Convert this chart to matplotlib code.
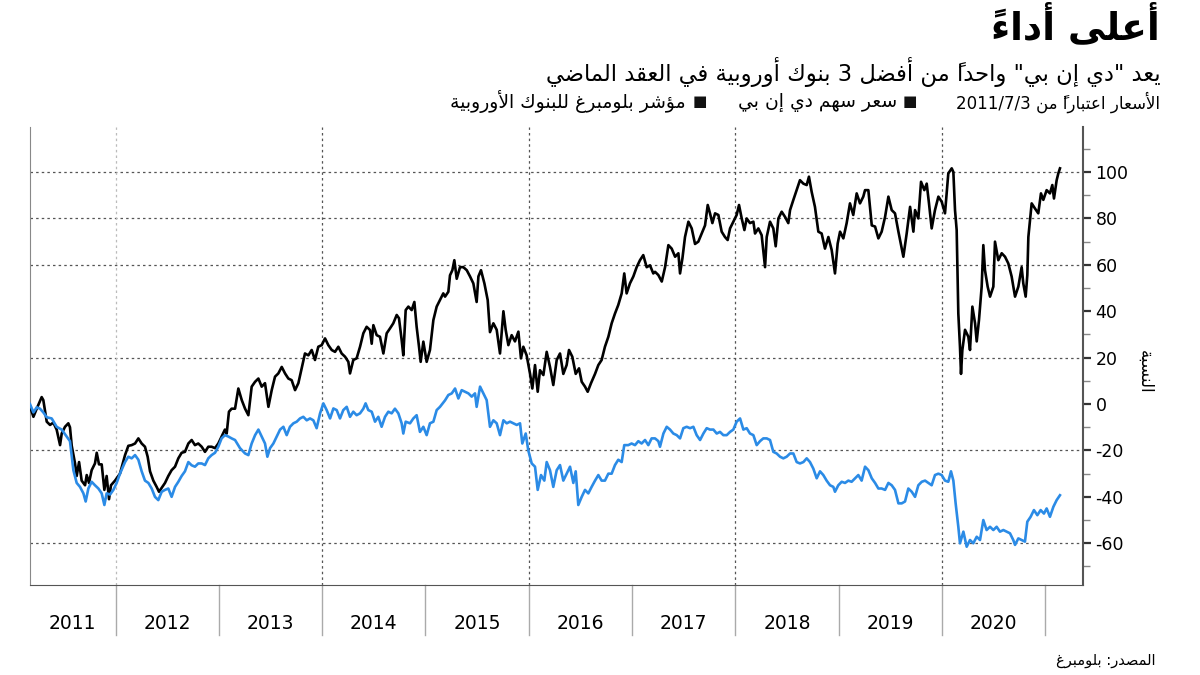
import re
import matplotlib
matplotlib.use("Agg")
import matplotlib.pyplot as plt
from matplotlib.ticker import FixedLocator
from matplotlib.transforms import blended_transform_factory

plt.rcParams['font.family'] = ['DejaVu Sans']
plt.rcParams['axes.unicode_minus'] = False

# ---- texts ----
TITLE = "أعلى أداءً"
SUBTITLE = 'يعد "دي إن بي" واحداً من أفضل 3 بنوك أوروبية في العقد الماضي'
NOTE = "الأسعار اعتباراً من 2011/7/3"
DNB_LABEL = "سعر سهم دي إن بي"
BANKS_LABEL = "مؤشر بلومبرغ للبنوك الأوروبية"
Y_LABEL = "النسبة"
SOURCE = "المصدر: بلومبرغ"

# ---- data: % change since start ----
dnb_years = [
    2011.172, 2011.205, 2011.237, 2011.285, 2011.301, 2011.334, 2011.366, 2011.398, 2011.430, 2011.463,
    2011.479, 2011.511, 2011.543, 2011.559, 2011.576, 2011.608, 2011.624, 2011.647, 2011.672, 2011.705,
    2011.721, 2011.743, 2011.769, 2011.801, 2011.818, 2011.840, 2011.866, 2011.892, 2011.914, 2011.937,
    2011.956, 2011.995,
    2012.043, 2012.092, 2012.124, 2012.156, 2012.189, 2012.221, 2012.253, 2012.285, 2012.311, 2012.334,
    2012.366, 2012.398, 2012.421, 2012.453, 2012.479, 2012.511, 2012.543, 2012.576, 2012.608, 2012.640,
    2012.672, 2012.705, 2012.737, 2012.769, 2012.801, 2012.834, 2012.866, 2012.898, 2012.930, 2012.963,
    2012.995,
    2013.027, 2013.059, 2013.076, 2013.098, 2013.124,
    2013.157, 2013.189, 2013.222, 2013.254, 2013.286, 2013.318, 2013.351, 2013.383, 2013.415, 2013.447,
    2013.480, 2013.512, 2013.544, 2013.576, 2013.609, 2013.641, 2013.673, 2013.705, 2013.738, 2013.770,
    2013.802, 2013.834, 2013.867, 2013.899, 2013.931, 2013.963, 2013.996,
    2014.028, 2014.060, 2014.093, 2014.125, 2014.157, 2014.189, 2014.222, 2014.254, 2014.270, 2014.302,
    2014.334, 2014.367, 2014.399, 2014.431, 2014.464, 2014.480, 2014.496, 2014.528, 2014.560, 2014.593,
    2014.625, 2014.657, 2014.689, 2014.722, 2014.744, 2014.770, 2014.786, 2014.809, 2014.835, 2014.867,
    2014.893, 2014.915, 2014.938, 2014.954, 2014.980,
    2015.012, 2015.044, 2015.077, 2015.109, 2015.141, 2015.173,
    2015.190, 2015.222, 2015.238, 2015.261, 2015.280, 2015.303, 2015.335, 2015.367, 2015.400, 2015.432,
    2015.464, 2015.496, 2015.513, 2015.538, 2015.571, 2015.603, 2015.625, 2015.658, 2015.690, 2015.722,
    2015.738, 2015.755, 2015.777, 2015.803, 2015.835, 2015.867, 2015.900, 2015.925, 2015.948, 2015.980,
    2016.013, 2016.035, 2016.061, 2016.087, 2016.109, 2016.142, 2016.174, 2016.206, 2016.238, 2016.271,
    2016.303, 2016.335, 2016.367, 2016.390, 2016.422, 2016.455, 2016.487, 2016.513, 2016.545, 2016.571,
    2016.603, 2016.642, 2016.674, 2016.706, 2016.738, 2016.771, 2016.803, 2016.835, 2016.867, 2016.900,
    2016.925, 2016.948, 2016.980,
    2017.013, 2017.045, 2017.077, 2017.109, 2017.142, 2017.174, 2017.206,
    2017.223, 2017.255, 2017.288, 2017.320, 2017.352, 2017.384, 2017.417, 2017.449, 2017.465, 2017.488,
    2017.513, 2017.546, 2017.578, 2017.610, 2017.642, 2017.675, 2017.707, 2017.733, 2017.755, 2017.778,
    2017.804, 2017.836, 2017.868, 2017.900, 2017.926, 2017.949, 2017.981,
    2018.013, 2018.036, 2018.062, 2018.088, 2018.110, 2018.142, 2018.175, 2018.191, 2018.223, 2018.255,
    2018.288, 2018.304, 2018.336, 2018.368, 2018.391, 2018.417, 2018.449, 2018.481, 2018.513, 2018.530,
    2018.562, 2018.594, 2018.626, 2018.659, 2018.691, 2018.713, 2018.739, 2018.771, 2018.804, 2018.836,
    2018.868, 2018.901, 2018.933, 2018.965, 2018.991,
    2019.014, 2019.046, 2019.078, 2019.110, 2019.142, 2019.175, 2019.207, 2019.239,
    2019.256, 2019.288, 2019.321, 2019.353, 2019.385, 2019.417, 2019.450, 2019.482, 2019.514, 2019.546,
    2019.579, 2019.611, 2019.627, 2019.659, 2019.692, 2019.724, 2019.740, 2019.772, 2019.798, 2019.830,
    2019.853, 2019.875, 2019.901, 2019.933, 2019.966, 2019.998,
    2020.030, 2020.046, 2020.062, 2020.095, 2020.111, 2020.127, 2020.143, 2020.159, 2020.175, 2020.185,
    2020.198, 2020.224, 2020.256, 2020.272, 2020.295, 2020.321, 2020.337, 2020.359, 2020.385, 2020.401,
    2020.417, 2020.443, 2020.466, 2020.498, 2020.514, 2020.546, 2020.579, 2020.611, 2020.643, 2020.675,
    2020.708, 2020.740, 2020.772, 2020.788, 2020.811, 2020.827, 2020.837, 2020.853, 2020.869, 2020.901,
    2020.933, 2020.959, 2020.982,
    2021.014, 2021.046, 2021.069, 2021.085, 2021.111, 2021.127, 2021.143,
]
dnb_values = [
    -1, -5.5, -2, 3, 1.7, -7.6, -9, -8, -11, -17.7,
    -12.7, -9.8, -8.3, -10, -18, -25.6, -31, -25, -33, -35,
    -30.6, -34, -28.5, -25.6, -21, -26, -26, -37, -31, -41,
    -35, -33,
    -30, -22, -18, -17.7, -17, -14.8, -17, -18.4, -22.7, -29,
    -33, -35.7, -37.8, -35.7, -34, -31, -28.5, -27, -23.4, -21,
    -20.6, -17, -15.5, -17.7, -17, -18.4, -20.6, -18.4, -18.4, -19,
    -17,
    -14, -11, -12.7, -3.3, -2,
    -2, 6.7, 1.7, -2, -4.8, 7.5, 9.6, 11, 7.5, 9,
    -1.2, 6, 11.8, 13.2, 16, 13.2, 11, 10.3, 6, 9,
    15.4, 21.8, 21, 23.3, 19, 24.7, 25.4,
    28.3, 25.4, 23.3, 22.5, 24.7, 21.8, 20.4, 18.2, 13.2, 19,
    19.7, 24.7, 30.5, 33.3, 31.9, 26, 34, 29.7, 29, 21.8,
    30.5, 32.6, 34.8, 38.4, 37, 27.6, 21, 40.5, 42, 40.5,
    44, 33.3, 24.7, 18.2, 26.9,
    18.2, 23.3, 36.2, 42, 44.8, 47.7,
    46.3, 48.4, 55.5, 57.7, 62, 54, 59, 59, 57.7, 55,
    52, 44, 55, 57.7, 52, 44.8, 31, 34.8, 32, 21.8,
    30.5, 40, 32, 25.4, 29.7, 27, 31.2, 19.7, 24.7, 21,
    13, 6.7, 16.8, 5.3, 14.6, 12.5, 22.5, 16, 8.2, 19,
    21.8, 13, 16.8, 23.3, 20.4, 13, 15.4, 9.6, 7.5, 5.3,
    9, 13, 16.8, 19, 24.7, 29, 34.8, 39, 42.7, 47.7,
    56.3, 47.7, 52,
    55, 59, 62, 64.2, 59, 59.8, 56.3,
    57, 55.6, 52.8, 59, 68.5, 67, 63.5, 65, 56.3, 62.8,
    72, 78.6, 75.7, 69, 70, 73.5, 77, 85.8, 82.2, 78,
    82.2, 81.5, 74.3, 72, 70.7, 75.7, 78.6,
    81.5, 85.8, 80, 75, 80, 78, 78.6, 73.5, 75.7, 72.8,
    59, 72, 78.6, 75.7, 68, 80, 82.9, 80.7, 78, 83.6,
    88, 92.2, 96.5, 95, 94.4, 98, 91.5, 85, 74.3, 73.5,
    67, 72, 66.4, 56.3, 69.2,
    74.3, 71.4, 78, 86.5, 81.5, 90.8, 86.5, 89.4,
    92.2, 92.2, 77, 76.5, 71.4, 74.3, 80.7, 89.4, 83.6, 82.2,
    74.3, 67, 63.5, 73.5, 85, 74.3, 83.6, 80, 95.8, 92.2,
    95, 86.5, 75.7, 83.6, 89.4, 87.2,
    82.2, 90.8, 99.4, 101.6, 100, 83.6, 75, 39, 24.7, 13,
    23.3, 32, 29, 23.3, 42, 34.8, 27, 36.2, 50.6, 68.5,
    57.7, 50.6, 46.3, 50.6, 70, 62, 65, 63.5, 60.6, 55,
    46.3, 50.6, 59, 52, 46.3, 55.6, 72, 79.3, 86.5, 84.3,
    82.2, 90.8, 88,
    92.2, 90.8, 94.4, 88.6, 96.5, 99.4, 101.6,
]

banks_years = [
    2011.172, 2011.205, 2011.237, 2011.269, 2011.301, 2011.334, 2011.382, 2011.430, 2011.479, 2011.527,
    2011.559, 2011.592, 2011.624, 2011.656, 2011.689, 2011.711, 2011.737, 2011.769, 2011.801, 2011.834,
    2011.866, 2011.892, 2011.914, 2011.947, 2011.979,
    2012.011, 2012.043, 2012.092, 2012.124, 2012.156, 2012.189, 2012.221, 2012.253, 2012.285, 2012.318,
    2012.350, 2012.382, 2012.414, 2012.447, 2012.479, 2012.511, 2012.543, 2012.576, 2012.608, 2012.640,
    2012.672, 2012.705, 2012.737, 2012.769, 2012.801, 2012.834, 2012.866, 2012.898, 2012.930, 2012.963,
    2012.995,
    2013.027, 2013.059, 2013.092, 2013.124,
    2013.157, 2013.205, 2013.254, 2013.286, 2013.318, 2013.351, 2013.383, 2013.415, 2013.447, 2013.470,
    2013.496, 2013.528, 2013.560, 2013.593, 2013.625, 2013.657, 2013.689, 2013.722, 2013.754, 2013.786,
    2013.818, 2013.851, 2013.883, 2013.915, 2013.947, 2013.980,
    2014.012, 2014.044, 2014.077, 2014.109, 2014.141, 2014.173, 2014.205, 2014.238, 2014.270, 2014.302,
    2014.334, 2014.367, 2014.399, 2014.421, 2014.447, 2014.480, 2014.512, 2014.544, 2014.576, 2014.609,
    2014.641, 2014.673, 2014.705, 2014.738, 2014.770, 2014.786, 2014.809, 2014.851, 2014.883, 2014.915,
    2014.947, 2014.980,
    2015.012, 2015.044, 2015.077, 2015.109, 2015.141,
    2015.190, 2015.222, 2015.255, 2015.287, 2015.319, 2015.351, 2015.384, 2015.416, 2015.448, 2015.480,
    2015.496, 2015.529, 2015.561, 2015.593, 2015.625, 2015.658, 2015.690, 2015.722, 2015.755, 2015.787,
    2015.819, 2015.851, 2015.884, 2015.916, 2015.938, 2015.971, 2015.996,
    2016.029, 2016.061, 2016.087, 2016.119, 2016.151, 2016.174, 2016.206, 2016.238, 2016.271, 2016.303,
    2016.335, 2016.367, 2016.400, 2016.432, 2016.455, 2016.480, 2016.513, 2016.545, 2016.577, 2016.609,
    2016.642, 2016.674, 2016.706, 2016.738, 2016.771, 2016.803, 2016.835, 2016.867, 2016.900, 2016.925,
    2016.964, 2016.996,
    2017.029, 2017.061, 2017.093, 2017.126, 2017.158, 2017.190,
    2017.223, 2017.255, 2017.271, 2017.304, 2017.336, 2017.368, 2017.400, 2017.433, 2017.465, 2017.497,
    2017.529, 2017.562, 2017.594, 2017.626, 2017.659, 2017.691, 2017.723, 2017.755, 2017.788, 2017.820,
    2017.852, 2017.884, 2017.917, 2017.949, 2017.981,
    2018.013, 2018.046, 2018.078, 2018.110, 2018.142, 2018.175, 2018.207, 2018.239, 2018.271, 2018.304,
    2018.336, 2018.368, 2018.400, 2018.433, 2018.465, 2018.497, 2018.530, 2018.562, 2018.594, 2018.626,
    2018.659, 2018.691, 2018.723, 2018.755, 2018.788, 2018.820, 2018.852, 2018.884, 2018.917, 2018.949,
    2018.965, 2018.997,
    2019.030, 2019.062, 2019.094, 2019.126, 2019.159, 2019.191, 2019.223,
    2019.256, 2019.288, 2019.321, 2019.353, 2019.385, 2019.417, 2019.450, 2019.482, 2019.514, 2019.546,
    2019.579, 2019.611, 2019.643, 2019.675, 2019.708, 2019.740, 2019.772, 2019.805, 2019.837, 2019.869,
    2019.901, 2019.933, 2019.966, 2019.998,
    2020.030, 2020.062, 2020.088, 2020.111, 2020.133, 2020.159, 2020.175, 2020.208, 2020.240, 2020.272,
    2020.304, 2020.337, 2020.369, 2020.401, 2020.433, 2020.466, 2020.498, 2020.530, 2020.562, 2020.595,
    2020.627, 2020.659, 2020.691, 2020.708, 2020.740, 2020.772, 2020.804, 2020.827, 2020.859, 2020.891,
    2020.924, 2020.956, 2020.988,
    2021.014, 2021.046, 2021.079, 2021.111, 2021.143,
]
banks_values = [
    0, -3.6, -1.4, -2, -3.6, -5.7, -6.2, -9.8, -11, -14,
    -16, -28.5, -34, -35.7, -38.5, -42, -36.4, -33.5, -35, -36.4,
    -38.5, -43.5, -38.5, -39, -37,
    -34, -30, -25, -22.7, -23.4, -22, -24, -29, -33, -34,
    -36.4, -40, -41.4, -37.8, -37, -36.4, -40, -35.7, -33.5, -31,
    -29, -25, -26.4, -27, -25.6, -25.6, -26.3, -23.4, -22, -21,
    -18.4,
    -14.8, -13.4, -14, -14.8,
    -15.5, -19, -21.3, -22, -17, -13.4, -11, -14, -17, -22.7,
    -19, -17, -14, -11, -9.8, -13.4, -9.8, -8.3, -7.6, -6.2,
    -5.5, -7, -6.2, -7, -10.4, -4,
    0.3, -2.6, -6.2, -1.9, -2.6, -6.2, -2.6, -1.2, -5.5, -3.3,
    -4.8, -4, -2, 0.3, -2.6, -3.3, -7.6, -5.5, -9.8, -5.5,
    -3.3, -4, -2, -4, -8.3, -12.7, -7.6, -8.3, -6.2, -4.8,
    -12, -9.8,
    -13.4, -8.3, -7.6, -2.6, -1.2,
    1.6, 3.9, 4.6, 6.7, 2.4, 6, 5.3, 4.6, 3.2, 4.6,
    -1.2, 7.5, 4.6, 1.7, -9.8, -7, -8.3, -13.4, -7, -8.3,
    -7.6, -8.3, -9, -8.3, -17, -12.7, -20,
    -25.6, -27, -37, -30.6, -33, -25, -28.5, -35.7, -28.5, -26.3,
    -33, -30, -27, -34, -29, -43.5, -40, -37, -38.5, -35.7,
    -33, -30.6, -33, -33, -30, -30, -26.3, -24, -25, -17.7,
    -17.7, -17,
    -17.7, -16, -17, -15.5, -17.7, -14.8,
    -14.8, -16, -18.4, -12.7, -9.8, -11, -12.7, -13.4, -14.8, -10.4,
    -9.8, -10.4, -9.8, -13.4, -15.5, -12.7, -10.4, -11, -11, -12.7,
    -12, -13.4, -13.4, -12, -11,
    -7.6, -6.2, -11, -10.4, -12.7, -13.4, -17.7, -16, -14.8, -14.8,
    -15.5, -20.6, -21.3, -22.7, -23.4, -22.7, -21.3, -21.3, -25, -25.6,
    -25, -23.4, -25, -27.8, -32, -29, -30.6, -33, -35, -35.7,
    -37.8, -35,
    -33.5, -34, -33, -33.5, -32, -30.6, -33,
    -27, -28.5, -32, -34, -36.4, -36.4, -37, -34, -35, -37,
    -42.8, -42.8, -42, -36.4, -37.8, -40, -35, -33.5, -33, -34,
    -35, -30.6, -30, -30.6,
    -33, -33.5, -29, -33, -42.8, -52.9, -60, -55, -61.5, -58.6,
    -60, -57.2, -58.6, -50, -54.3, -52.9, -54.3, -52.9, -55, -54.3,
    -55, -55.7, -58.6, -60.7, -57.9, -58.6, -59.3, -50.7, -48.6, -45.7,
    -47.9, -45.7, -47.2,
    -45, -48.6, -44.3, -41.4, -39.3,
]

year_labels = [2011, 2012, 2013, 2014, 2015, 2016, 2017, 2018, 2019, 2020]
year_bounds = [2012, 2013, 2014, 2015, 2016, 2017, 2018, 2019, 2020, 2021]
y_major = [-60, -40, -20, 0, 20, 40, 60, 80, 100]
y_minor = [-70, -50, -30, -10, 10, 30, 50, 70, 90, 110]
grid_y = [-60, -20, 20, 60, 80, 100]
grid_x = [2014, 2016, 2018, 2020]

# ---- minimal Arabic shaping (presentation forms) + right-to-left ordering ----
AR = {'ء': (0xFE80, 0), 'آ': (0xFE81, 1), 'أ': (0xFE83, 1), 'ؤ': (0xFE85, 1), 'إ': (0xFE87, 1),
      'ئ': (0xFE89, 2), 'ا': (0xFE8D, 1), 'ب': (0xFE8F, 2), 'ة': (0xFE93, 1), 'ت': (0xFE95, 2),
      'ث': (0xFE99, 2), 'ج': (0xFE9D, 2), 'ح': (0xFEA1, 2), 'خ': (0xFEA5, 2), 'د': (0xFEA9, 1),
      'ذ': (0xFEAB, 1), 'ر': (0xFEAD, 1), 'ز': (0xFEAF, 1), 'س': (0xFEB1, 2), 'ش': (0xFEB5, 2),
      'ص': (0xFEB9, 2), 'ض': (0xFEBD, 2), 'ط': (0xFEC1, 2), 'ظ': (0xFEC5, 2), 'ع': (0xFEC9, 2),
      'غ': (0xFECD, 2), 'ف': (0xFED1, 2), 'ق': (0xFED5, 2), 'ك': (0xFED9, 2), 'ل': (0xFEDD, 2),
      'م': (0xFEE1, 2), 'ن': (0xFEE5, 2), 'ه': (0xFEE9, 2), 'و': (0xFEED, 1), 'ى': (0xFEEF, 1),
      'ي': (0xFEF1, 2)}
LAM_ALEF = {'آ': 0xFEF5, 'أ': 0xFEF7, 'إ': 0xFEF9, 'ا': 0xFEFB}


def is_mark(c):
    return '\u064B' <= c <= '\u0652'


def shape(s):
    out = []
    prev_joins = False
    i, n = 0, len(s)
    while i < n:
        c = s[i]
        if is_mark(c):
            out.append(c)
            i += 1
            continue
        if c not in AR:
            out.append(c)
            prev_joins = False
            i += 1
            continue
        j = i + 1
        while j < n and is_mark(s[j]):
            j += 1
        nxt = s[j] if j < n else ''
        if c == 'ل' and nxt in LAM_ALEF:
            out.append(chr(LAM_ALEF[nxt] + (1 if prev_joins else 0)))
            out.extend(s[i + 1:j])
            prev_joins = False
            i = j + 1
            continue
        iso, kind = AR[c]
        join_prev = prev_joins and kind > 0
        join_next = kind == 2 and nxt in AR and AR[nxt][1] > 0
        if kind == 0:
            form = iso
        elif join_prev and join_next:
            form = iso + 3
        elif join_prev:
            form = iso + 1
        elif join_next:
            form = iso + 2
        else:
            form = iso
        out.append(chr(form))
        prev_joins = join_next
        i += 1
    return ''.join(out)


def ar(s):
    tokens = re.findall(r'[0-9][0-9/.]*[0-9]|[0-9]|.[\u064B-\u0652]*', shape(s))
    # marks go in front of their letter so they sit over it when drawn left to right
    tokens = [t[1:] + t[0] if len(t) > 1 and is_mark(t[-1]) else t for t in tokens]
    return ''.join(reversed(tokens))


# ---- figure ----
fig = plt.figure(figsize=(12, 6.75), dpi=100)
ax = fig.add_axes([0.025, 0.1333, 0.8775, 0.6785])

ax.plot(dnb_years, dnb_values, color='black', lw=1.9, zorder=3)
ax.plot(banks_years, banks_values, color='#2B8BE6', lw=1.9, zorder=4)

ax.set_xlim(2011.172, 2021.366)
ax.set_ylim(-78, 119.4)

for v in grid_y:
    ax.axhline(v, color='#555555', lw=0.9, ls=(0, (2, 2.5)), zorder=1)
for v in grid_x:
    ax.axvline(v, color='#555555', lw=0.9, ls=(0, (2, 2.5)), zorder=1)
ax.axvline(2012, color='#bbbbbb', lw=0.9, ls=(0, (2, 2.5)), zorder=1)

ax.spines['top'].set_visible(False)
ax.spines['left'].set_color('#888888')
ax.spines['bottom'].set_color('#555555')
ax.spines['right'].set_color('#555555')
ax.spines['right'].set_linewidth(1.5)

ax.set_xticks([])
ax.yaxis.tick_right()
ax.yaxis.set_major_locator(FixedLocator(y_major))
ax.yaxis.set_minor_locator(FixedLocator(y_minor))
ax.tick_params(axis='y', which='major', length=6, width=1.6, color='#333333',
               labelsize=12.5, pad=3, right=True, left=False)
ax.tick_params(axis='y', which='minor', length=5, width=1, color='#888888', right=True, left=False)

trans = blended_transform_factory(ax.transData, ax.transAxes)
for b in year_bounds:
    ax.plot([b, b], [0, -0.11], transform=trans, color='#aaaaaa', lw=1, clip_on=False)
x0 = ax.get_xlim()[0]
for yr in year_labels:
    c = (max(yr, x0) + yr + 1) / 2
    ax.text(c, -0.083, str(yr), transform=trans, ha='center', va='center', fontsize=13.5)

fig.text(0.954, 0.449, ar(Y_LABEL), rotation=-90, ha='center', va='center', fontsize=12)

fig.text(0.9667, 0.962, ar(TITLE), ha='right', va='center', fontsize=27, fontweight='bold')
fig.text(0.9667, 0.893, ar(SUBTITLE), ha='right', va='center', fontsize=16.3)
fig.text(0.9667, 0.849, ar(NOTE), ha='right', va='center', fontsize=12)
fig.text(0.758, 0.849, '■', ha='center', va='center', fontsize=11, color='#111111')
fig.text(0.7475, 0.849, ar(DNB_LABEL), ha='right', va='center', fontsize=13.5)
fig.text(0.583, 0.849, '■', ha='center', va='center', fontsize=11, color='#111111')
fig.text(0.5717, 0.849, ar(BANKS_LABEL), ha='right', va='center', fontsize=13.5)
fig.text(0.9625, 0.022, ar(SOURCE), ha='right', va='center', fontsize=10.5)

fig.savefig('out.png', dpi=100)
